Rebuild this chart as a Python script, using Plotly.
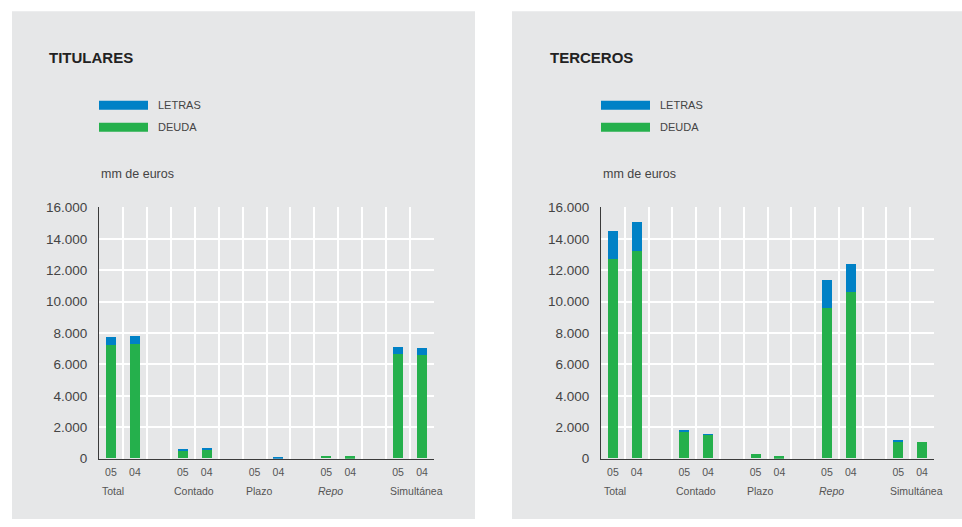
import plotly.graph_objects as go

# ---- data ----
categories = ["Total", "Contado", "Plazo", "Repo", "Simultánea"]
years = ["05", "04"]
titulares_deuda = [7190, 7270, 490, 550, 0, 0, 130, 120, 6610, 6550]
titulares_letras = [510, 510, 130, 130, 0, 60, 0, 0, 470, 450]
terceros_deuda = [12680, 13190, 1720, 1490, 300, 120, 9600, 10560, 1050, 1020]
terceros_letras = [1790, 1850, 60, 50, 0, 0, 1730, 1790, 70, 0]
y_ticks = [0, 2000, 4000, 6000, 8000, 10000, 12000, 14000, 16000]
y_ticktext = ["0", "2.000", "4.000", "6.000", "8.000", "10.000", "12.000", "14.000", "16.000"]
panel_titles = ["TITULARES", "TERCEROS"]
series_names = ["LETRAS", "DEUDA"]
unit_label = "mm de euros"

# ---- style ----
W, H = 962, 527
BLUE = "#0081c6"
GREEN = "#25b04c"
PANEL = "#e6e7e8"
FONT = "Liberation Sans"


def px(x):
    return x / W


def py(y):
    # compensate for the vertical framing of the photographed page
    yc = y * 543.0 / 527.0 - 8.0
    return 1 - yc / H


# x positions: groups of 3 slots (2 bars + gap)
xpos = [g * 3 + i for g in range(len(categories)) for i in range(len(years))]
xlabels = [years[i] for g in range(len(categories)) for i in range(len(years))]
nslots = len(categories) * 3 - 1
boundaries = [k + 0.5 for k in range(nslots)]

fig = go.Figure()

panels = [
    dict(data=(titulares_letras, titulares_deuda), x0=12, x1=475, ax0=99, ax1=434, title_x=47),
    dict(data=(terceros_letras, terceros_deuda), x0=512, x1=962, ax0=601, ax1=934, title_x=548),
]

shapes = []
annotations = []
for p_i, p in enumerate(panels):
    sfx = "" if p_i == 0 else "2"
    letras, deuda = p["data"]
    fig.add_trace(go.Bar(x=xpos, y=deuda, marker_color=GREEN, width=0.42,
                         marker_line_width=0,
                         name=series_names[1], xaxis="x" + sfx, yaxis="y" + sfx,
                         showlegend=False))
    fig.add_trace(go.Bar(x=xpos, y=letras, marker_color=BLUE, width=0.42,
                         marker_line_width=0,
                         name=series_names[0], xaxis="x" + sfx, yaxis="y" + sfx,
                         showlegend=False))
    xa = dict(
        domain=[px(p["ax0"]), px(p["ax1"])],
        range=[-0.5, nslots - 0.5],
        tickmode="array", tickvals=xpos, ticktext=xlabels,
        showgrid=False, zeroline=False,
        showline=True, linecolor="#3a3a3a", linewidth=1,
        ticks="outside", ticklen=4, tickcolor="rgba(0,0,0,0)",
        tickfont=dict(family=FONT, size=10.5, color="#555"),
        minor=dict(tickmode="array", tickvals=boundaries, showgrid=True,
                   gridcolor="white", gridwidth=1.5, ticks=""),
        anchor="y" + sfx, fixedrange=True,
    )
    ya = dict(
        domain=[py(459), py(208)],
        range=[0, 16000],
        tickmode="array", tickvals=y_ticks, ticktext=y_ticktext,
        showgrid=True, gridcolor="white", gridwidth=1.5, zeroline=False,
        showline=True, linecolor="#3a3a3a", linewidth=1,
        ticks="outside", ticklen=8, tickcolor="rgba(0,0,0,0)",
        tickfont=dict(family=FONT, size=13.5, color="#444"),
        anchor="x" + sfx, fixedrange=True,
    )
    fig.update_layout(**{"xaxis" + sfx: xa, "yaxis" + sfx: ya})

    # panel background
    shapes.append(dict(type="rect", xref="paper", yref="paper",
                       x0=px(p["x0"]), x1=px(p["x1"]), y0=0, y1=py(12),
                       fillcolor=PANEL, line=dict(width=0), layer="below"))
    # title
    annotations.append(dict(text="<b>" + panel_titles[p_i] + "</b>", xref="paper", yref="paper",
                            x=px(p["title_x"]), y=py(58), xanchor="left", yanchor="middle",
                            showarrow=False, font=dict(family=FONT, size=15, color="#222")))
    # legend swatches
    for j, (name, col) in enumerate(zip(series_names, [BLUE, GREEN])):
        yc = 106 + j * 22
        shapes.append(dict(type="rect", xref="paper", yref="paper",
                           x0=px(p["ax0"]), x1=px(p["ax0"] + 49), y0=py(yc + 4.5), y1=py(yc - 4.5),
                           fillcolor=col, line=dict(width=0)))
        annotations.append(dict(text=name, xref="paper", yref="paper",
                                x=px(p["ax0"] + 57), y=py(yc), xanchor="left", yanchor="middle",
                                showarrow=False, font=dict(family=FONT, size=11, color="#444")))
    annotations.append(dict(text=unit_label, xref="paper", yref="paper",
                            x=px(p["ax0"]), y=py(175), xanchor="left", yanchor="middle",
                            showarrow=False, font=dict(family=FONT, size=12.5, color="#444")))
    # category labels
    for g, cat in enumerate(categories):
        txt = "<i>" + cat + "</i>" if cat == "Repo" else cat
        annotations.append(dict(text=txt, xref="x" + sfx, yref="paper",
                                x=g * 3 - 0.5 + 0.06, y=py(491), xanchor="left", yanchor="middle",
                                showarrow=False, font=dict(family=FONT, size=10.5, color="#555")))

fig.update_layout(
    width=W, height=H,
    margin=dict(l=0, r=0, t=0, b=0),
    paper_bgcolor="white", plot_bgcolor=PANEL,
    barmode="stack", bargap=0,
    shapes=shapes, annotations=annotations,
    showlegend=False,
)

post = ("var de=document.documentElement;de.style.margin='0';de.style.padding='0';"
        "de.style.overflow='hidden';de.style.height='527px';"
        "document.body.style.margin='0';document.body.style.padding='0';"
        "document.body.style.overflow='hidden';document.body.style.height='527px';"
        "var gd=document.getElementById('{plot_id}');"
        "gd.style.position='fixed';gd.style.top='0px';gd.style.left='0px';")
fig.write_html("out.html", post_script=post, config={"displayModeBar": False})
